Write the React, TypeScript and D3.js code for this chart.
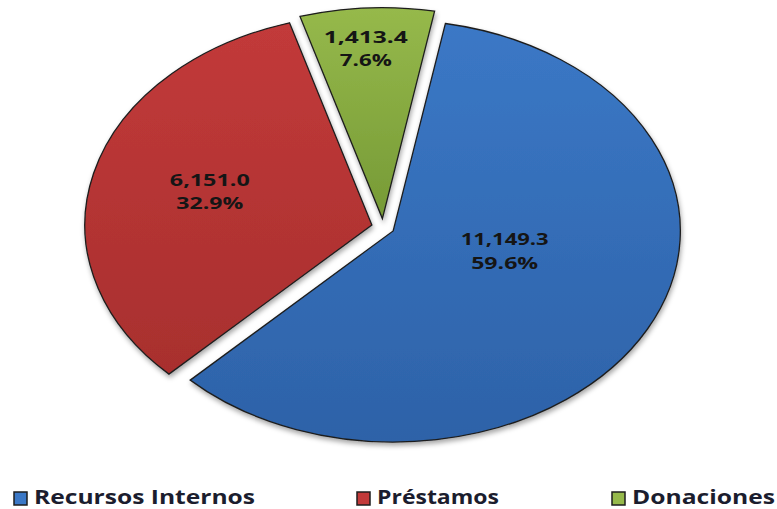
import { useEffect, useRef } from "react";
import * as d3 from "d3";

// Budget by source of funding
const categories = ["Recursos Internos", "Préstamos", "Donaciones"];
const amounts = [11149.3, 6151.0, 1413.4];
const shares = [59.6, 32.9, 7.6];

const colors = ["#3b78c6", "#c23a3a", "#96b94b"];
const darkColors = ["#2d62a8", "#a82f2e", "#769a36"];

// label tweaks per slice (radius as fraction of the pie, angle nudge in degrees)
const labelRadius = [0.4, 0.587, 0.81];
const labelNudge = [-14, 1.7, -1];
const numberWidths = [88, 80, 84];
const shareWidths = [67, 67, 52];

const W = 777;
const H = 509;

const App = () => {
  const svgRef = useRef<SVGSVGElement>(null);

  useEffect(() => {
    const svg = d3.select(svgRef.current);
    svg.selectAll("*").remove();

    const cx = 383;
    const cy = 227;
    const rx = 287;
    const ry = 211;
    const explode = 0.04;
    const start = (10.5 * Math.PI) / 180;

    const defs = svg.append("defs");
    colors.forEach((c, i) => {
      const g = defs
        .append("linearGradient")
        .attr("id", `grad${i}`)
        .attr("x1", 0)
        .attr("y1", 0)
        .attr("x2", 0)
        .attr("y2", 1);
      g.append("stop").attr("offset", "0%").attr("stop-color", c);
      g.append("stop").attr("offset", "100%").attr("stop-color", darkColors[i]);
    });
    const shadow = defs
      .append("filter")
      .attr("id", "shadow")
      .attr("x", "-10%")
      .attr("y", "-10%")
      .attr("width", "120%")
      .attr("height", "120%");
    shadow
      .append("feDropShadow")
      .attr("dx", 1)
      .attr("dy", 3)
      .attr("stdDeviation", 2.5)
      .attr("flood-color", "#000")
      .attr("flood-opacity", 0.35);

    const pie = d3
      .pie<number>()
      .sort(null)
      .startAngle(start)
      .endAngle(start + 2 * Math.PI);
    const arcs = pie(amounts);

    const arc = d3.arc<d3.PieArcDatum<number>>().innerRadius(0).outerRadius(1);

    const outer = svg.append("g").attr("filter", "url(#shadow)");
    const pieG = outer
      .append("g")
      .attr("transform", `translate(${cx},${cy}) scale(${rx},${ry})`);

    pieG
      .selectAll("path")
      .data(arcs)
      .enter()
      .append("path")
      .attr("d", (d) => arc(d) as string)
      .attr("transform", (d) => {
        const mid = (d.startAngle + d.endAngle) / 2;
        return `translate(${explode * Math.sin(mid)},${-explode * Math.cos(mid)})`;
      })
      .attr("fill", (_, i) => `url(#grad${i})`)
      .attr("stroke", "#1e1e1e")
      .attr("stroke-width", 1.3)
      .attr("vector-effect", "non-scaling-stroke")
      .attr("stroke-linejoin", "miter");

    // data labels
    const fmt = d3.format(",.1f");
    arcs.forEach((d, i) => {
      const mid = (d.startAngle + d.endAngle) / 2;
      const la = mid + (labelNudge[i] * Math.PI) / 180;
      const ox = explode * Math.sin(mid);
      const oy = -explode * Math.cos(mid);
      const x = cx + rx * (ox + labelRadius[i] * Math.sin(la));
      const y = cy + ry * (oy - labelRadius[i] * Math.cos(la));
      const t = svg
        .append("g")
        .attr("font-family", "'Open Sans', 'DejaVu Sans', sans-serif")
        .attr("font-weight", 700)
        .attr("font-size", 16.5)
        .attr("fill", "#151515")
        .attr("text-anchor", "middle");
      t.append("text")
        .attr("x", x)
        .attr("y", y - 5.5)
        .attr("textLength", numberWidths[i])
        .attr("lengthAdjust", "spacingAndGlyphs")
        .text(fmt(amounts[i]));
      t.append("text")
        .attr("x", x)
        .attr("y", y + 18)
        .attr("textLength", shareWidths[i])
        .attr("lengthAdjust", "spacingAndGlyphs")
        .text(`${d3.format(".1f")(shares[i])}%`);
    });

    // legend
    const legendX = [14, 357, 612];
    const legendW = [221, 122, 143];
    const legend = svg
      .append("g")
      .attr("font-family", "'Open Sans', 'DejaVu Sans', sans-serif")
      .attr("font-weight", 700)
      .attr("font-size", 19)
      .attr("fill", "#1b1d2e");
    categories.forEach((c, i) => {
      legend
        .append("rect")
        .attr("x", legendX[i])
        .attr("y", 492)
        .attr("width", 13)
        .attr("height", 13)
        .attr("fill", colors[i])
        .attr("stroke", "#1e1e1e")
        .attr("stroke-width", 1.5);
      legend
        .append("text")
        .attr("x", legendX[i] + 20)
        .attr("y", 504)
        .attr("textLength", legendW[i])
        .attr("lengthAdjust", "spacingAndGlyphs")
        .text(c);
    });
  }, []);

  return (
    <div style={{ position: "fixed", left: 0, top: 0, width: W, height: H, background: "#fff" }}>
      <svg ref={svgRef} width={W} height={H}></svg>
    </div>
  );
};

export default App;
